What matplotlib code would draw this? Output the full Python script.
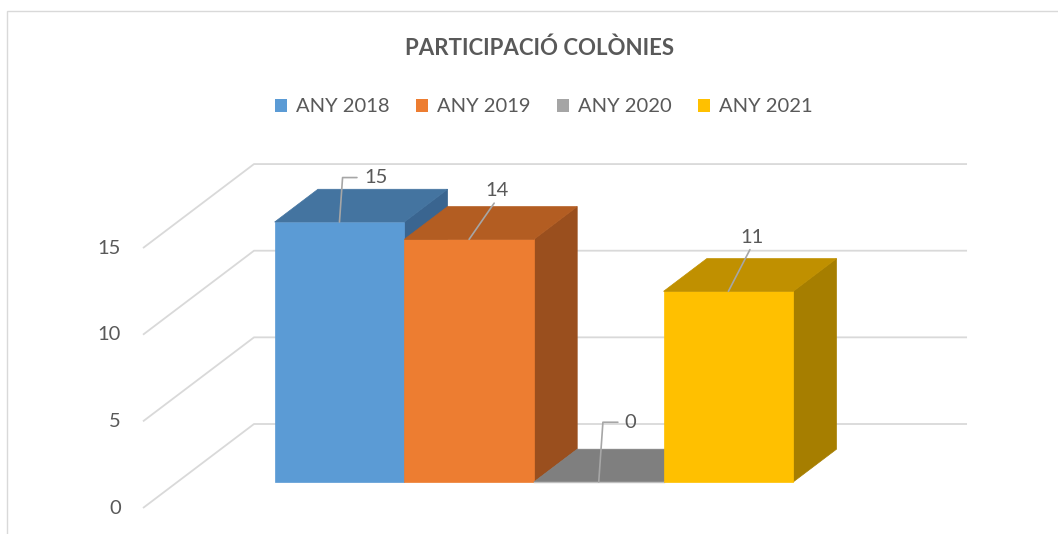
import matplotlib
matplotlib.use("Agg")
import matplotlib.pyplot as plt
from matplotlib.patches import Polygon, Patch, Rectangle

# -----------------------------
# Data
# -----------------------------
title = "PARTICIPACIÓ COLÒNIES"
series = ["ANY 2018", "ANY 2019", "ANY 2020", "ANY 2021"]
values = [15, 14, 0, 11]
y_ticks = [0, 5, 10, 15]

front_colors = ["#5B9BD5", "#ED7D31", "#A5A5A5", "#FFC000"]
top_colors = ["#4474A0", "#B35D22", "#7F7F7F", "#C09000"]
side_colors = ["#3A6590", "#9A4F1E", "#6E6E6E", "#A67E00"]

# label offsets (points) and leader style for each data label
label_offsets = [(26, 32), (20, 35), (23, 43), (17, 39)]
label_elbow = [True, False, True, False]

plt.rcParams["font.family"] = ["Lato", "DejaVu Sans"]
TXT = "#595959"
GRID = "#D9D9D9"
FS = 14.5

# -----------------------------
# Oblique 3D layout
# -----------------------------
W, H = 1058, 534
PX_X = 129.64   # px per bar width
PX_V = 17.33    # px per value unit
ORIG = (143, 508)  # front-left floor corner (px from top-left)
KX = 111 / PX_X    # depth shift in x units
KV = 84 / PX_V     # depth shift in value units
FLOOR_W = 5.5
GAP = 0.75
D0, D1 = 0.31, 0.70


def proj(x, v, d):
    return (x + d * KX, v + d * KV)


fig = plt.figure(figsize=(W / 100, H / 100), dpi=100)
ax = fig.add_axes([0, 0, 1, 1])
ax.set_xlim(-ORIG[0] / PX_X, (W - ORIG[0]) / PX_X)
ax.set_ylim(-(H - ORIG[1]) / PX_V, ORIG[1] / PX_V)
ax.axis("off")

# chart frame
fig.patches.append(Rectangle((7 / W, -0.2), 1.2, 1 - 11 / H + 0.2, transform=fig.transFigure,
                             fill=False, edgecolor=GRID, linewidth=1.0))

# walls / gridlines
for v in y_ticks:
    a = proj(0, v, 0)
    b = proj(0, v, 1)
    c = proj(FLOOR_W, v, 1)
    ax.plot([a[0], b[0], c[0]], [a[1], b[1], c[1]], color=GRID, lw=1.3, zorder=1,
            solid_capstyle="butt")
    ax.annotate(str(v), xy=a, xytext=(-16, 0), textcoords="offset points",
                ha="right", va="center", fontsize=FS, color=TXT)

# bars
for i, v in enumerate(values):
    x0 = GAP + i
    x1 = x0 + 1
    side = [proj(x1, 0, D0), proj(x1, 0, D1), proj(x1, v, D1), proj(x1, v, D0)]
    top = [proj(x0, v, D0), proj(x1, v, D0), proj(x1, v, D1), proj(x0, v, D1)]
    front = [proj(x0, 0, D0), proj(x1, 0, D0), proj(x1, v, D0), proj(x0, v, D0)]
    z = 2 + i
    if v > 0:
        ax.add_patch(Polygon(side, closed=True, facecolor=side_colors[i],
                             edgecolor=side_colors[i], lw=0.5, zorder=z))
        ax.add_patch(Polygon(front, closed=True, facecolor=front_colors[i],
                             edgecolor=front_colors[i], lw=0.5, zorder=z))
    ax.add_patch(Polygon(top, closed=True, facecolor=top_colors[i],
                         edgecolor=top_colors[i], lw=0.5, zorder=z))
    if v == 0:
        ax.plot([front[0][0], front[1][0]], [front[0][1], front[1][1]],
                color="#BFBFBF", lw=1, zorder=z)

    # data label with leader line
    anchor = proj(x0 + 0.5, v, D0)
    if label_elbow[i]:
        arrow = dict(arrowstyle="-", color="#A6A6A6", lw=1.2, shrinkA=3, shrinkB=0,
                     connectionstyle="angle,angleA=0,angleB=86,rad=0")
    else:
        arrow = dict(arrowstyle="-", color="#A6A6A6", lw=1.2, shrinkA=1, shrinkB=0,
                     relpos=(0.5, 0.0))
    ax.annotate(str(v), xy=anchor, xytext=label_offsets[i], textcoords="offset points",
                ha="center", va="center", fontsize=FS, color=TXT,
                arrowprops=arrow, zorder=10)

# title and legend
fig.text(540 / W, 1 - 48 / H, title, ha="center", va="center", fontsize=16,
         fontweight="bold", color=TXT)

handles = [Patch(facecolor=c, edgecolor="none") for c in front_colors]
fig.legend(handles, series, loc="center", bbox_to_anchor=(544 / W, 1 - 107 / H), ncol=4,
           frameon=False, fontsize=FS, labelcolor=TXT, handlelength=0.6,
           handleheight=0.6, handletextpad=0.45, columnspacing=1.3)

fig.savefig("out.png", dpi=100)
